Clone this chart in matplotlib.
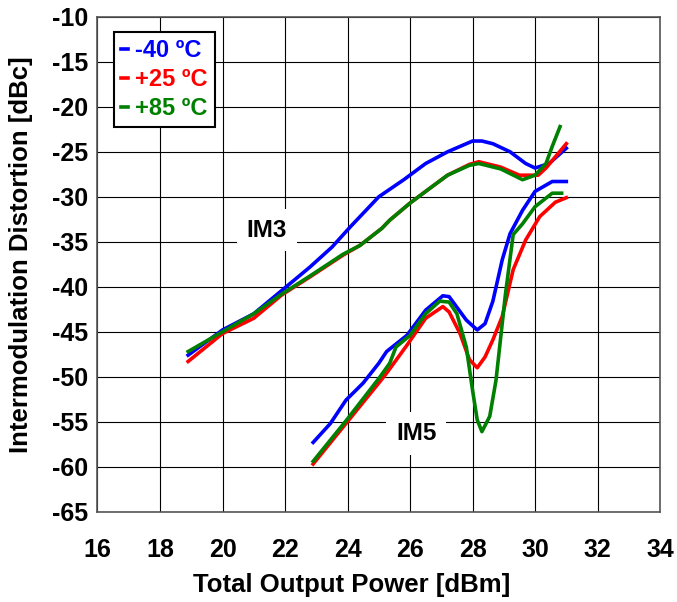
import matplotlib.pyplot as plt

plt.rcParams['font.family'] = ['Liberation Sans', 'DejaVu Sans']
plt.rcParams['font.weight'] = 'bold'
plt.rcParams['axes.unicode_minus'] = False

# IM3 curves (x = total output power dBm, y = dBc)
im3_blue_x = [18.9, 20.0, 21.0, 21.9, 22.8, 23.5, 24.1, 24.7, 25.0, 25.8, 26.5, 27.2, 28.0, 28.3, 28.65, 29.2, 29.7, 30.0, 30.45, 31.0]
im3_blue_y = [-47.6, -44.8, -43.0, -40.4, -37.8, -35.6, -33.3, -31.1, -30.0, -28.1, -26.3, -25.0, -23.8, -23.8, -24.1, -25.0, -26.3, -26.8, -26.3, -24.6]

im3_red_x = [18.9, 20.0, 21.0, 21.9, 22.8, 23.85, 24.4, 25.1, 25.35, 26.0, 26.5, 27.2, 27.9, 28.2, 28.9, 29.5, 29.7, 30.1, 30.35, 31.0]
im3_red_y = [-48.3, -45.2, -43.5, -40.9, -38.9, -36.5, -35.4, -33.5, -32.6, -30.7, -29.4, -27.6, -26.4, -26.1, -26.7, -27.6, -27.6, -27.6, -26.8, -24.1]

im3_green_x = [18.9, 20.0, 21.0, 21.9, 22.8, 23.85, 24.4, 25.1, 25.35, 26.0, 26.5, 27.2, 27.9, 28.2, 28.9, 29.6, 30.0, 30.35, 30.55, 30.8]
im3_green_y = [-47.2, -45.0, -43.0, -40.8, -38.8, -36.4, -35.4, -33.5, -32.6, -30.7, -29.4, -27.6, -26.5, -26.3, -26.9, -28.1, -27.6, -26.3, -24.4, -22.2]

# IM5 curves
im5_blue_x = [22.9, 23.45, 23.95, 24.5, 25.0, 25.25, 25.9, 26.5, 27.05, 27.25, 27.8, 28.15, 28.4, 28.65, 28.95, 29.2, 29.6, 30.0, 30.55, 31.0]
im5_blue_y = [-57.3, -55.2, -52.6, -50.7, -48.5, -47.2, -45.4, -42.6, -41.0, -41.1, -43.7, -44.8, -44.1, -41.6, -37.0, -34.1, -31.5, -29.4, -28.3, -28.3]

im5_red_x = [22.9, 23.95, 25.0, 25.25, 25.9, 26.5, 27.05, 27.25, 27.6, 27.9, 28.15, 28.4, 28.65, 28.95, 29.3, 29.7, 30.15, 30.65, 31.0]
im5_red_y = [-59.7, -55.2, -50.7, -49.6, -46.5, -43.5, -42.2, -42.8, -45.2, -48.1, -49.0, -47.8, -45.9, -43.3, -38.1, -34.8, -32.2, -30.6, -30.1]

im5_green_x = [22.9, 23.95, 25.0, 25.35, 25.55, 26.0, 26.5, 26.95, 27.25, 27.5, 27.8, 28.0, 28.15, 28.3, 28.55, 28.75, 29.05, 29.3, 29.6, 30.0, 30.55, 30.85]
im5_green_y = [-59.4, -54.9, -50.2, -48.5, -46.7, -45.4, -43.0, -41.6, -41.7, -43.0, -46.7, -51.5, -54.8, -56.1, -54.4, -50.4, -40.9, -34.2, -33.0, -31.1, -29.6, -29.6]

colors = {'-40': '#0000FF', '+25': '#FF0000', '+85': '#008000'}

fig = plt.figure(figsize=(6.77, 6.02), dpi=100)
ax = fig.add_axes([0.144, 0.150, 0.831, 0.822])

lw = 2.6
l1, = ax.plot(im3_blue_x, im3_blue_y, color=colors['-40'], lw=lw, label='-40 ºC', zorder=3)
l2, = ax.plot(im3_red_x, im3_red_y, color=colors['+25'], lw=lw, label='+25 ºC', zorder=3)
l3, = ax.plot(im3_green_x, im3_green_y, color=colors['+85'], lw=lw, label='+85 ºC', zorder=3)
ax.plot(im5_blue_x, im5_blue_y, color=colors['-40'], lw=lw, zorder=3)
ax.plot(im5_red_x, im5_red_y, color=colors['+25'], lw=lw, zorder=3)
ax.plot(im5_green_x, im5_green_y, color=colors['+85'], lw=lw, zorder=3)

ax.set_xlim(16, 34)
ax.set_ylim(-65, -10)
ax.set_xticks(range(16, 35, 2))
ax.set_yticks(range(-65, -9, 5))
ax.grid(True, color='black', lw=0.8)
ax.tick_params(length=0, labelsize=18)
ax.tick_params(axis='x', pad=19)
ax.tick_params(axis='y', pad=7)
for s in ax.spines.values():
    s.set_color('#555555')
    s.set_linewidth(1.2)

ax.set_xlabel('Total Output Power [dBm]', fontsize=18.5, fontweight='bold', labelpad=8)
ax.set_ylabel('Intermodulation Distortion [dBc]', fontsize=18.5, fontweight='bold', labelpad=13)
ax.xaxis.label.set_x(0.452)
ax.yaxis.label.set_y(0.519)

ax.text(21.42, -33.7, 'IM3', fontsize=17.5, fontweight='bold', ha='center', va='center',
        bbox=dict(facecolor='white', edgecolor='none', pad=7), zorder=2)
ax.text(26.2, -56.3, 'IM5', fontsize=17.5, fontweight='bold', ha='center', va='center',
        bbox=dict(facecolor='white', edgecolor='none', pad=7), zorder=2)

leg = ax.legend(handles=[l1, l2, l3], loc='upper left', bbox_to_anchor=(0.029, 0.969),
                borderaxespad=0, fontsize=17, handlelength=0.3, handletextpad=0.3,
                labelspacing=0.25, borderpad=0.3, fancybox=False, framealpha=1,
                edgecolor='black', labelcolor='linecolor')
leg.get_frame().set_linewidth(1.5)
for t in leg.get_texts():
    t.set_fontweight('bold')

fig.savefig('out.png', dpi=100)
